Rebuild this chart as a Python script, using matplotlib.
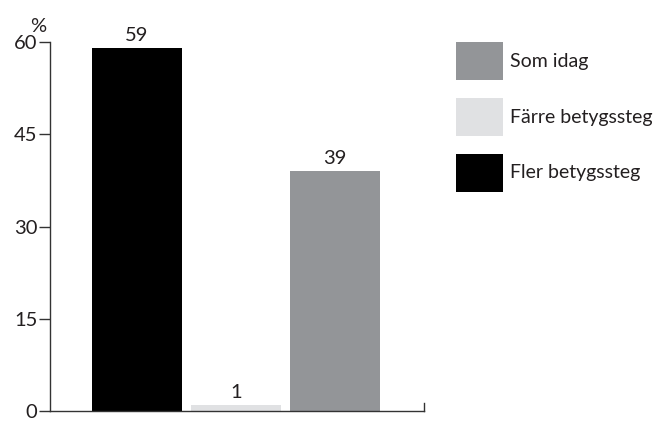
import matplotlib.pyplot as plt
from matplotlib.patches import Rectangle

plt.rcParams['font.family'] = ['Lato', 'DejaVu Sans']

categories = ['Fler betygssteg', 'Färre betygssteg', 'Som idag']
values = [59, 1, 39]
colors = ['#000000', '#e0e1e3', '#939598']
legend_order = [2, 1, 0]
yticks = [0, 15, 30, 45, 60]

W, H = 658, 422
fig = plt.figure(figsize=(W / 100, H / 100), dpi=100)
ax = fig.add_axes([50 / W, 11 / H, 374 / W, 369 / H])

x = range(len(values))
bars = ax.bar(x, values, width=0.91, color=colors)
for b, v in zip(bars, values):
    ax.text(b.get_x() + b.get_width() / 2, v + 0.6, str(v),
            ha='center', va='bottom', fontsize=14.5, color='#231f20')

ax.set_xlim(-0.879, 2.899)
ax.set_ylim(0, 60)
ax.set_yticks(yticks)
ax.set_yticklabels([str(t) for t in yticks], fontsize=14.5, color='#231f20')
ax.set_xticks([])
ax.tick_params(axis='y', length=8, width=1, color='#333333', pad=1)

ax.spines['top'].set_visible(False)
for s in ['left', 'bottom', 'right']:
    ax.spines[s].set_color('#333333')
    ax.spines[s].set_linewidth(1)
ax.spines['right'].set_bounds(0, 1.3)

ax.text(-0.032, 1.02, '%', transform=ax.transAxes, fontsize=14.5,
        color='#231f20', ha='center', va='bottom')

# legend drawn by hand: squares 47x38 px, 56 px apart
for k, i in enumerate(legend_order):
    top = 42 + 56 * k
    fig.add_artist(Rectangle((456 / W, (H - top - 38) / H), 47 / W, 38 / H,
                             facecolor=colors[i], edgecolor='none',
                             transform=fig.transFigure))
    fig.text(510 / W, (H - top - 19) / H, categories[i], fontsize=14,
             color='#231f20', ha='left', va='center')

fig.savefig('out.png', dpi=100)
